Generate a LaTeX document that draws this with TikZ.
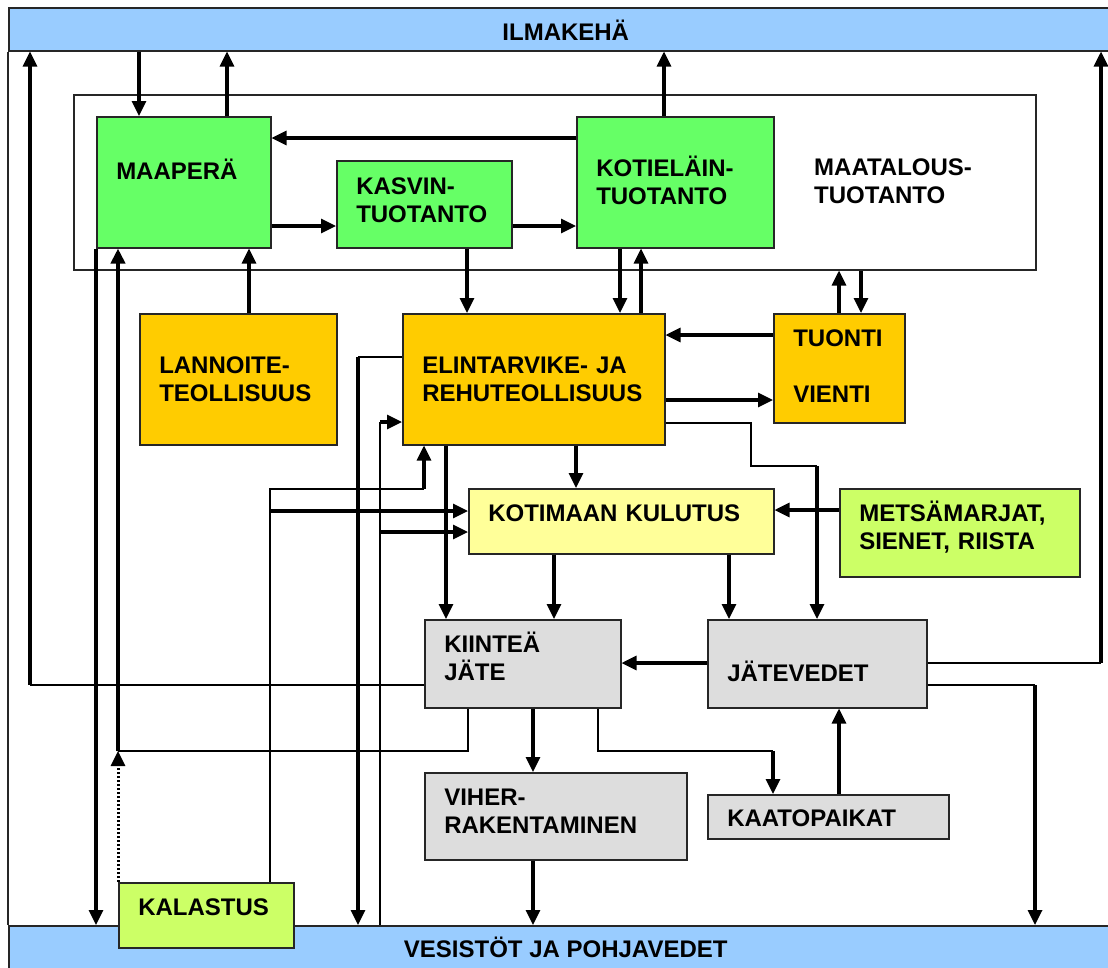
\documentclass[tikz,border=0pt]{standalone}
\usepackage{fontspec}
\setmainfont{Liberation Sans}
\usepackage{tikz}
\usetikzlibrary{arrows.meta}
\definecolor{sky}{HTML}{99CCFF}
\definecolor{leaf}{HTML}{66FF66}
\definecolor{amber}{HTML}{FFCC00}
\definecolor{cream}{HTML}{FFFF99}
\definecolor{chart}{HTML}{CCFF66}
\definecolor{ash}{HTML}{DDDDDD}
\hyphenpenalty=10000
\exhyphenpenalty=10000
\begin{document}
\begin{tikzpicture}[
    x=1pt, y=-1pt,
    blk/.style ={draw=black!85, line width=1.5pt, anchor=north west, inner xsep=19.5pt, inner ysep=0pt,
                 align=left, text height=17pt, font=\fontsize{24}{28}\selectfont\bfseries},
    bar/.style ={fill=sky, draw=black!85, line width=1.5pt, anchor=north west, inner sep=0pt,
                 minimum width=1114pt, font=\fontsize{24}{28}\selectfont\bfseries},
    arr/.style ={line width=3.2pt, -{Triangle[length=15pt, width=14pt]}},
    ln/.style  ={line width=1.6pt},
    dot/.style ={line width=3pt, dash pattern=on 2.4pt off 1.6pt, -{Triangle[length=15pt, width=14pt]}}
  ]
  \useasboundingbox (0,0) rectangle (1108,967);

  %% ---- air and water ------------------------------------------------
  \node[bar, minimum height=43pt, text height=22pt, text depth=0pt] (ilma) at (8,7) {ILMAKEHÄ};
  \node[bar, minimum height=46pt, text height=17pt, text depth=0pt] (vesi) at (8,925) {VESISTÖT JA POHJAVEDET};
  \draw[ln, draw=black!85] (ilma.south west) -- (vesi.north west);

  %% ---- agriculture frame --------------------------------------------
  \node[draw=black!85, line width=1.5pt, anchor=north west, inner sep=0pt,
        minimum width=962pt, minimum height=175pt] (maatalous) at (73,94) {};
  \node[anchor=base west, inner sep=0pt, align=left, font=\fontsize{24}{28}\selectfont\bfseries]
        (maatalousTxt) at (814,203.6) {MAATALOUS-\\TUOTANTO};

  %% ---- boxes ----------------------------------------------------------
  \node[blk, fill=leaf,  minimum width=174pt, minimum height=131pt, text width=135pt, text depth=23pt] (maapera)  at (96,116)  {MAAPERÄ};
  \node[blk, fill=leaf,  minimum width=175pt, minimum height=87pt,  text width=136pt, text depth=37pt] (kasvi)    at (336,160) {KASVIN-\\TUOTANTO};
  \node[blk, fill=leaf,  minimum width=197pt, minimum height=131pt, text width=158pt, text depth=28pt] (kotiel)   at (576,116) {KOTIELÄIN-\\TUOTANTO};
  \node[blk, fill=amber, minimum width=197pt, minimum height=131pt, text width=158pt, text depth=28pt] (lannoite) at (139,313) {LANNOITE-\\TEOLLISUUS};
  \node[blk, fill=amber, minimum width=262pt, minimum height=131pt, text width=223pt, text depth=28pt] (elint)    at (402,313) {ELINTARVIKE- JA\\REHUTEOLLISUUS};
  \node[blk, fill=amber, minimum width=131pt, minimum height=109pt, text width=92pt,  text depth=61pt] (tuonti)   at (773,313) {TUONTI\\[28pt]VIENTI};
  \node[blk, fill=cream, minimum width=305pt, minimum height=65pt,  text width=266pt, text depth=17pt] (kotimaa)  at (468,488) {KOTIMAAN KULUTUS};
  \node[blk, fill=chart, minimum width=240pt, minimum height=88pt,  text width=201pt, text depth=40pt] (metsa)    at (839,488) {METSÄMARJAT,\\SIENET, RIISTA};
  \node[blk, fill=ash,   minimum width=196pt, minimum height=88pt,  text width=157pt, text depth=40pt] (kiintea)  at (424,619) {KIINTEÄ\\JÄTE};
  \node[blk, fill=ash,   minimum width=219pt, minimum height=88pt,  text width=180pt, text height=35pt, text depth=0pt] (jatev) at (707,619) {JÄTEVEDET};
  \node[blk, fill=ash,   minimum width=262pt, minimum height=87pt,  text width=223pt, text depth=38pt] (viher)    at (424,772) {VIHER-\\RAKENTAMINEN};
  \node[blk, fill=ash,   minimum width=241pt, minimum height=44pt,  text width=202pt, text height=19pt, text depth=0pt] (kaato) at (707,794) {KAATOPAIKAT};
  \node[blk, fill=chart, minimum width=175pt, minimum height=65pt,  text width=136pt, text depth=17pt] (kalastus) at (118,882) {KALASTUS};

  %% ---- agriculture flows ---------------------------------------------
  \draw[arr] (139,0 |- ilma.south) -- (139,0 |- maapera.north);
  \draw[arr] (227,0 |- maapera.north) -- (227,0 |- ilma.south);
  \draw[arr] (kotiel.west |- 0,138) -- (maapera.east |- 0,138);
  \draw[arr] (maapera.east |- 0,226) -- (kasvi.west |- 0,226);
  \draw[arr] (kasvi.east |- 0,226) -- (kotiel.west |- 0,226);
  \draw[arr] (664,0 |- kotiel.north) -- (664,0 |- ilma.south);
  \draw[arr] (467,0 |- kasvi.south) -- (467,0 |- elint.north);
  \draw[arr] (620,0 |- kotiel.south) -- (620,0 |- elint.north);
  \draw[arr] (641,0 |- elint.north) -- (641,0 |- kotiel.south);
  \draw[arr] (249,0 |- lannoite.north) -- (249,0 |- maapera.south);
  \draw[arr] (839,0 |- tuonti.north) -- (839,0 |- maatalous.south);
  \draw[arr] (861,0 |- maatalous.south) -- (861,0 |- tuonti.north);
  \draw[arr] (maapera.south west) -- (maapera.south west |- vesi.north);

  %% ---- industry and trade ---------------------------------------------
  \draw[arr] (tuonti.west |- 0,335) -- (elint.east |- 0,335);
  \draw[arr] (elint.east |- 0,400) -- (tuonti.west |- 0,400);
  \coordinate (jv) at (817,466);
  \draw[ln] (elint.east |- 0,423) -| (751,466) -- (jv);
  \draw[arr] (jv) -- (jv |- jatev.north);
  \draw[arr] (576,0 |- elint.south) -- (576,0 |- kotimaa.north);
  \draw[arr] (446,0 |- elint.south) -- (446,0 |- kiintea.north);
  \coordinate (ev) at (358,357);
  \draw[ln] (elint.west |- ev) -- (ev);
  \draw[arr] (ev) -- (ev |- vesi.north);
  \coordinate (ve) at (380,422);
  \coordinate (vk) at (380,532);
  \draw[ln] (ve |- vesi.north) -- (ve);
  \draw[arr] (ve) -- (elint.west |- ve);
  \draw[arr] (vk) -- (kotimaa.west |- vk);
  \coordinate (ke) at (424,489);
  \coordinate (kk) at (270,511);
  \draw[ln] (kk |- kalastus.north) |- (ke);
  \draw[arr] (ke) -- (ke |- elint.south);
  \draw[arr] (kk) -- (kotimaa.west |- kk);

  %% ---- consumption and waste ------------------------------------------
  \draw[arr] (metsa.west |- 0,510) -- (kotimaa.east |- 0,510);
  \draw[arr] (554,0 |- kotimaa.south) -- (554,0 |- kiintea.north);
  \draw[arr] (729,0 |- kotimaa.south) -- (729,0 |- jatev.north);
  \draw[arr] (jatev.west |- 0,663) -- (kiintea.east |- 0,663);
  \coordinate (ji) at (1101,663);
  \draw[ln] (jatev.east |- ji) -- (ji);
  \draw[arr] (ji) -- (ji |- ilma.south);
  \coordinate (jw) at (1035,685);
  \draw[ln] (jatev.east |- jw) -- (jw);
  \draw[arr] (jw) -- (jw |- vesi.north);
  \coordinate (ki) at (30,685);
  \draw[ln] (kiintea.west |- ki) -- (ki);
  \draw[arr] (ki) -- (ki |- ilma.south);
  \draw[arr] (533,0 |- kiintea.south) -- (533,0 |- viher.north);
  \draw[arr] (533,0 |- viher.south) -- (533,0 |- vesi.north);
  \coordinate (kp) at (773,751);
  \draw[ln] (598,0 |- kiintea.south) |- (kp);
  \draw[arr] (kp) -- (kp |- kaato.north);
  \draw[arr] (839,0 |- kaato.north) -- (839,0 |- jatev.south);
  \coordinate (km) at (118,751);
  \draw[ln] (468,0 |- kiintea.south) |- (km);
  \draw[arr, line width=3.8pt] (km) -- (km |- maapera.south);
  \draw[dot] (km |- kalastus.north) -- (km);

\end{tikzpicture}
\end{document}
